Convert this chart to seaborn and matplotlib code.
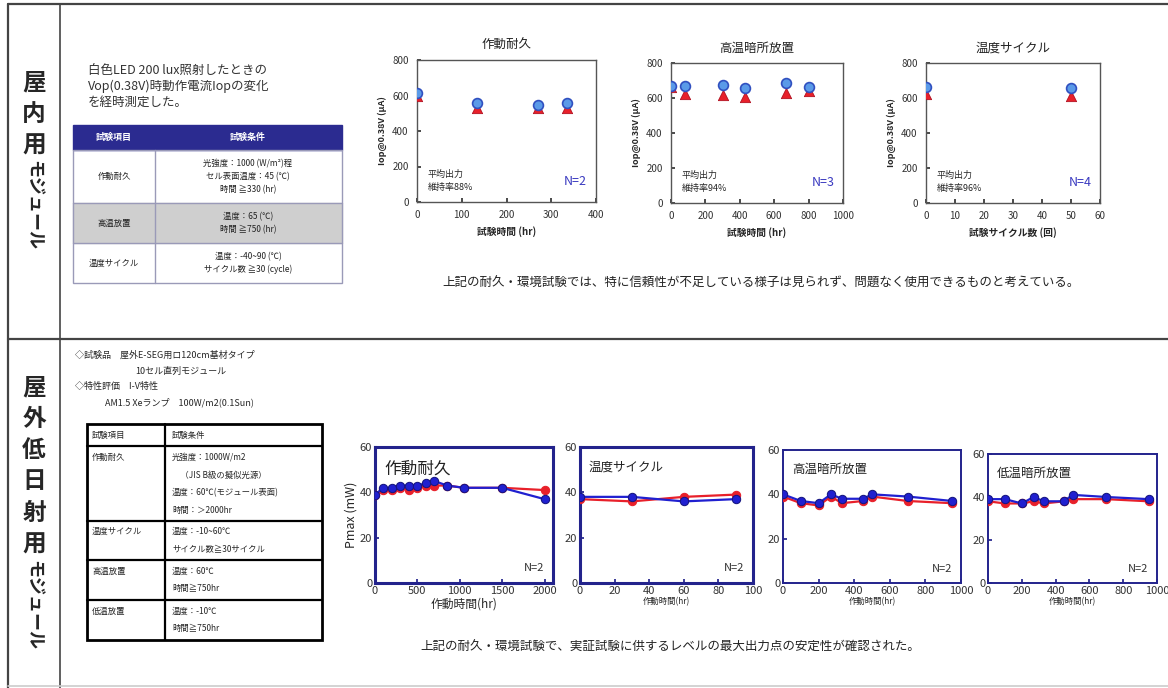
import matplotlib
matplotlib.use("Agg")
import matplotlib.pyplot as plt
import seaborn as sns
from matplotlib.patches import Rectangle

# ---------------- data ----------------
# indoor module: operating current Iop @0.38V (uA)
op_hours = [0, 135, 270, 335]
op_blue = [610, 555, 540, 550]
op_red = [600, 530, 530, 530]

ht_hours = [0, 80, 300, 430, 670, 800]
ht_blue = [665, 665, 670, 650, 680, 660]
ht_red = [660, 620, 615, 605, 630, 640]

tc_cycles = [0, 50]
tc_blue = [660, 650]
tc_red = [625, 610]

# outdoor low-irradiance module: Pmax (mW)
o_op_hours = [0, 100, 200, 300, 400, 500, 600, 700, 850, 1050, 1500, 2000]
o_op_blue = [39, 42, 42, 43, 43, 43, 44, 45, 43, 42, 42, 37]
o_op_red = [39, 41, 41, 42, 41, 42, 43, 43, 43, 42, 42, 41]

o_tc_cycles = [0, 30, 60, 90]
o_tc_blue = [38, 38, 36, 37]
o_tc_red = [37, 36, 38, 39]

o_ht_hours = [0, 100, 200, 270, 330, 450, 500, 700, 950]
o_ht_blue = [40, 37, 36, 40, 38, 38, 40, 39, 37]
o_ht_red = [39, 36, 35, 39, 36, 37, 39, 37, 36]

o_lt_hours = [0, 100, 200, 270, 330, 450, 500, 700, 950]
o_lt_blue = [39, 39, 37, 40, 38, 38, 41, 40, 39]
o_lt_red = [38, 37, 37, 38, 37, 38, 39, 39, 38]

# ---------------- style ----------------
sns.set_theme(style="ticks")
plt.rcParams["font.family"] = ["Noto Sans CJK JP", "DejaVu Sans"]
plt.rcParams["axes.unicode_minus"] = False

W, H = 1168, 688
fig = plt.figure(figsize=(W / 100, H / 100), dpi=100)
fig.patch.set_facecolor("white")

NAVY = "#23238c"
RED = "#e8202a"
BLUE = "#2020d0"


def add_ax(x0, y0, x1, y1):
    return fig.add_axes([x0 / W, 1 - y1 / H, (x1 - x0) / W, (y1 - y0) / H])


# background layer in pixel coordinates
bg = fig.add_axes([0, 0, 1, 1], zorder=0)
bg.set_xlim(0, W)
bg.set_ylim(H, 0)
bg.axis("off")


def txt(x, y, s, **kw):
    kw.setdefault("va", "center")
    bg.text(x, y, s, **kw)


# outer frame
bg.plot([8, W], [4, 4], color="#444444", lw=1.6)
bg.plot([8, 8], [4, H], color="#444444", lw=1.6)
bg.plot([60, 60], [4, H], color="#444444", lw=1.2)
bg.plot([8, W], [339, 339], color="#444444", lw=1.6)
bg.plot([8, W], [686, 686], color="#cccccc", lw=1.2)


# vertical section labels: kanji stacked upright, katakana turned sideways
def vlabel(chars, kana, x, y0, step, kana_top):
    y = y0
    for c in chars:
        txt(x, y, c, ha="center", fontsize=17, fontweight="bold")
        y += step
    txt(x, kana_top, kana, ha="center", va="top", fontsize=13,
        fontweight="bold", rotation=-90)


vlabel("屋内用", "モジュール", 34, 82, 32, 160)
vlabel("屋外低日射用", "モジュール", 34, 387, 31.5, 560)

# ---------------- indoor section ----------------
for i, line in enumerate(["白色LED 200 lux照射したときの",
                          "Vop(0.38V)時動作電流Iopの変化",
                          "を経時測定した。"]):
    txt(88, 70 + i * 16, line, ha="left", fontsize=9, color="#333333")

# test-condition table
bg.add_patch(Rectangle((73, 125), 269, 25, color="#2b2b90", zorder=2))
txt(114, 137.5, "試験項目", ha="center", color="white", fontsize=6.5, fontweight="bold", zorder=3)
txt(248, 137.5, "試験条件", ha="center", color="white", fontsize=6.5, fontweight="bold", zorder=3)
bg.add_patch(Rectangle((73, 203), 269, 40, color="#cfcfcf", zorder=1))
bg.add_patch(Rectangle((73, 150), 269, 133, fill=False, ec="#9a9ab8", lw=1, zorder=2))
for yy in [203, 243]:
    bg.plot([73, 342], [yy, yy], color="#9a9ab8", lw=1, zorder=2)
bg.plot([155, 155], [150, 283], color="#9a9ab8", lw=1, zorder=2)
rows = [
    ("作動耐久", 176.5, ["光強度：1000 (W/m²)程", "セル表面温度：45 (℃)", "時間 ≧330 (hr)"]),
    ("高温放置", 223, ["温度：65 (℃)", "時間 ≧750 (hr)"]),
    ("温度サイクル", 263, ["温度：-40~90 (℃)", "サイクル数 ≧30 (cycle)"]),
]
for name, yc, conds in rows:
    txt(114, yc, name, ha="center", fontsize=6, color="#222222", zorder=3)
    n = len(conds)
    for k, c in enumerate(conds):
        txt(248, yc + (k - (n - 1) / 2) * 13, c, ha="center", fontsize=6,
            color="#222222", zorder=3)


def indoor_chart(box, x, blue, red, xlim, xticks, title, xlabel, ratio, nlabel):
    ax = add_ax(*box)
    sns.scatterplot(x=x, y=red, marker="^", s=55, color=RED, edgecolor="#b01020",
                    ax=ax, zorder=3)
    sns.scatterplot(x=x, y=[v + 5 for v in blue], marker="o", s=50,
                    color="#5a9ae8", edgecolor="#3050c0", linewidth=1.2,
                    ax=ax, zorder=4)
    ax.set_xlim(*xlim)
    ax.set_ylim(0, 800)
    ax.set_xticks(xticks)
    ax.set_yticks(range(0, 801, 200))
    ax.tick_params(labelsize=7, direction="in", length=3, pad=6, colors="#333333")
    for sp in ax.spines.values():
        sp.set_visible(True)
        sp.set_color("#555555")
        sp.set_linewidth(1)
    ax.set_xlabel(xlabel, fontsize=7, fontweight="bold", labelpad=4)
    ax.set_ylabel("Iop@0.38V (μA)", fontsize=6.5, fontweight="bold", labelpad=4)
    ax.set_title(title, fontsize=9, pad=8, color="#222222")
    ax.text(0.06, 0.07, "平均出力\n維持率" + ratio, transform=ax.transAxes,
            fontsize=6.5, linespacing=1.6, va="bottom")
    ax.text(0.95, 0.1, nlabel, transform=ax.transAxes, fontsize=9,
            color="#3a3ac0", ha="right", va="bottom")
    return ax


indoor_chart((417, 60, 596, 202), op_hours, op_blue, op_red, (0, 400),
             range(0, 401, 100), "作動耐久", "試験時間 (hr)", "88%", "N=2")
indoor_chart((671, 63, 843, 203), ht_hours, ht_blue, ht_red, (0, 1000),
             range(0, 1001, 200), "高温暗所放置", "試験時間 (hr)", "94%", "N=3")
indoor_chart((926, 63, 1100, 203), tc_cycles, tc_blue, tc_red, (0, 60),
             range(0, 61, 10), "温度サイクル", "試験サイクル数 (回)", "96%", "N=4")

txt(761, 283, "上記の耐久・環境試験では、特に信頼性が不足している様子は見られず、問題なく使用できるものと考えている。",
    ha="center", fontsize=9, color="#222222")

# ---------------- outdoor section ----------------
txt(75, 355, "◇試験品　屋外E-SEG用ロ120cm基材タイプ", ha="left", fontsize=6.5)
txt(135, 371, "10セル直列モジュール", ha="left", fontsize=6.5)
txt(75, 386, "◇特性評価　I-V特性", ha="left", fontsize=6.5)
txt(105, 402, "AM1.5 Xeランプ　100W/m2(0.1Sun)", ha="left", fontsize=6.5)

bg.add_patch(Rectangle((87, 424), 235, 216, fill=False, ec="black", lw=2, zorder=2))
for yy in [446, 521, 560, 600]:
    bg.plot([87, 322], [yy, yy], color="black", lw=1.6, zorder=2)
bg.plot([165, 165], [424, 640], color="black", lw=1.6, zorder=2)
txt(92, 435, "試験項目", ha="left", fontsize=6)
txt(172, 435, "試験条件", ha="left", fontsize=6)
orows = [
    ("作動耐久", 457, ["光強度：1000W/m2", "　（JIS B級の擬似光源）", "温度：60℃(モジュール表面)", "時間：＞2000hr"]),
    ("温度サイクル", 531, ["温度：-10~60℃", "サイクル数≧30サイクル"]),
    ("高温放置", 571, ["温度：60℃", "時間≧750hr"]),
    ("低温放置", 611, ["温度：-10℃", "時間≧750hr"]),
]
for name, y0, conds in orows:
    txt(92, y0, name, ha="left", fontsize=6)
    for k, c in enumerate(conds):
        txt(172, y0 + k * 18, c, ha="left", fontsize=6)


def outdoor_chart(box, x, blue, red, xlim, xticks, title, title_fs, frame_lw,
                  xlabel_fs, tick_fs):
    ax = add_ax(*box)
    sns.lineplot(x=x, y=red, marker="o", color=RED, markersize=6,
                 markeredgecolor=RED, linewidth=1.6, ax=ax, zorder=3)
    sns.lineplot(x=x, y=blue, marker="o", color=BLUE, markersize=6,
                 markeredgecolor="#151580", linewidth=1.6, ax=ax, zorder=4)
    ax.set_xlim(*xlim)
    ax.set_ylim(0, 60)
    ax.set_xticks(xticks)
    ax.set_yticks([0, 20, 40, 60])
    ax.tick_params(labelsize=tick_fs, direction="in", length=3, pad=2,
                   colors="#333333", color=NAVY)
    for sp in ax.spines.values():
        sp.set_visible(True)
        sp.set_color(NAVY)
        sp.set_linewidth(frame_lw)
    ax.set_xlabel("作動時間(hr)", fontsize=xlabel_fs, labelpad=1)
    ax.set_ylabel("")
    ax.text(0.05, 0.9, title, transform=ax.transAxes, fontsize=title_fs,
            va="top", color="#222222")
    ax.text(0.95, 0.07, "N=2", transform=ax.transAxes, fontsize=8,
            ha="right", va="bottom", color="#333333")
    return ax


a1 = outdoor_chart((375, 447, 553, 583), o_op_hours, o_op_blue, o_op_red,
                   (0, 2100), range(0, 2001, 500), "作動耐久", 12, 2.2, 8.5, 8)
a1.set_ylabel("Pmax (mW)", fontsize=9, labelpad=2)
outdoor_chart((580, 447, 753, 583), o_tc_cycles, o_tc_blue, o_tc_red,
              (0, 100), range(0, 101, 20), "温度サイクル", 9, 2.2, 6, 8)
outdoor_chart((783, 450, 961, 583), o_ht_hours, o_ht_blue, o_ht_red,
              (0, 1000), range(0, 1001, 200), "高温暗所放置", 9, 1.4, 6, 8)
outdoor_chart((988, 454, 1157, 583), o_lt_hours, o_lt_blue, o_lt_red,
              (0, 1000), range(0, 1001, 200), "低温暗所放置", 9, 1.4, 6, 8)

txt(670, 647, "上記の耐久・環境試験で、実証試験に供するレベルの最大出力点の安定性が確認された。",
    ha="center", fontsize=9, color="#222222")

fig.savefig("out.png", dpi=100)
